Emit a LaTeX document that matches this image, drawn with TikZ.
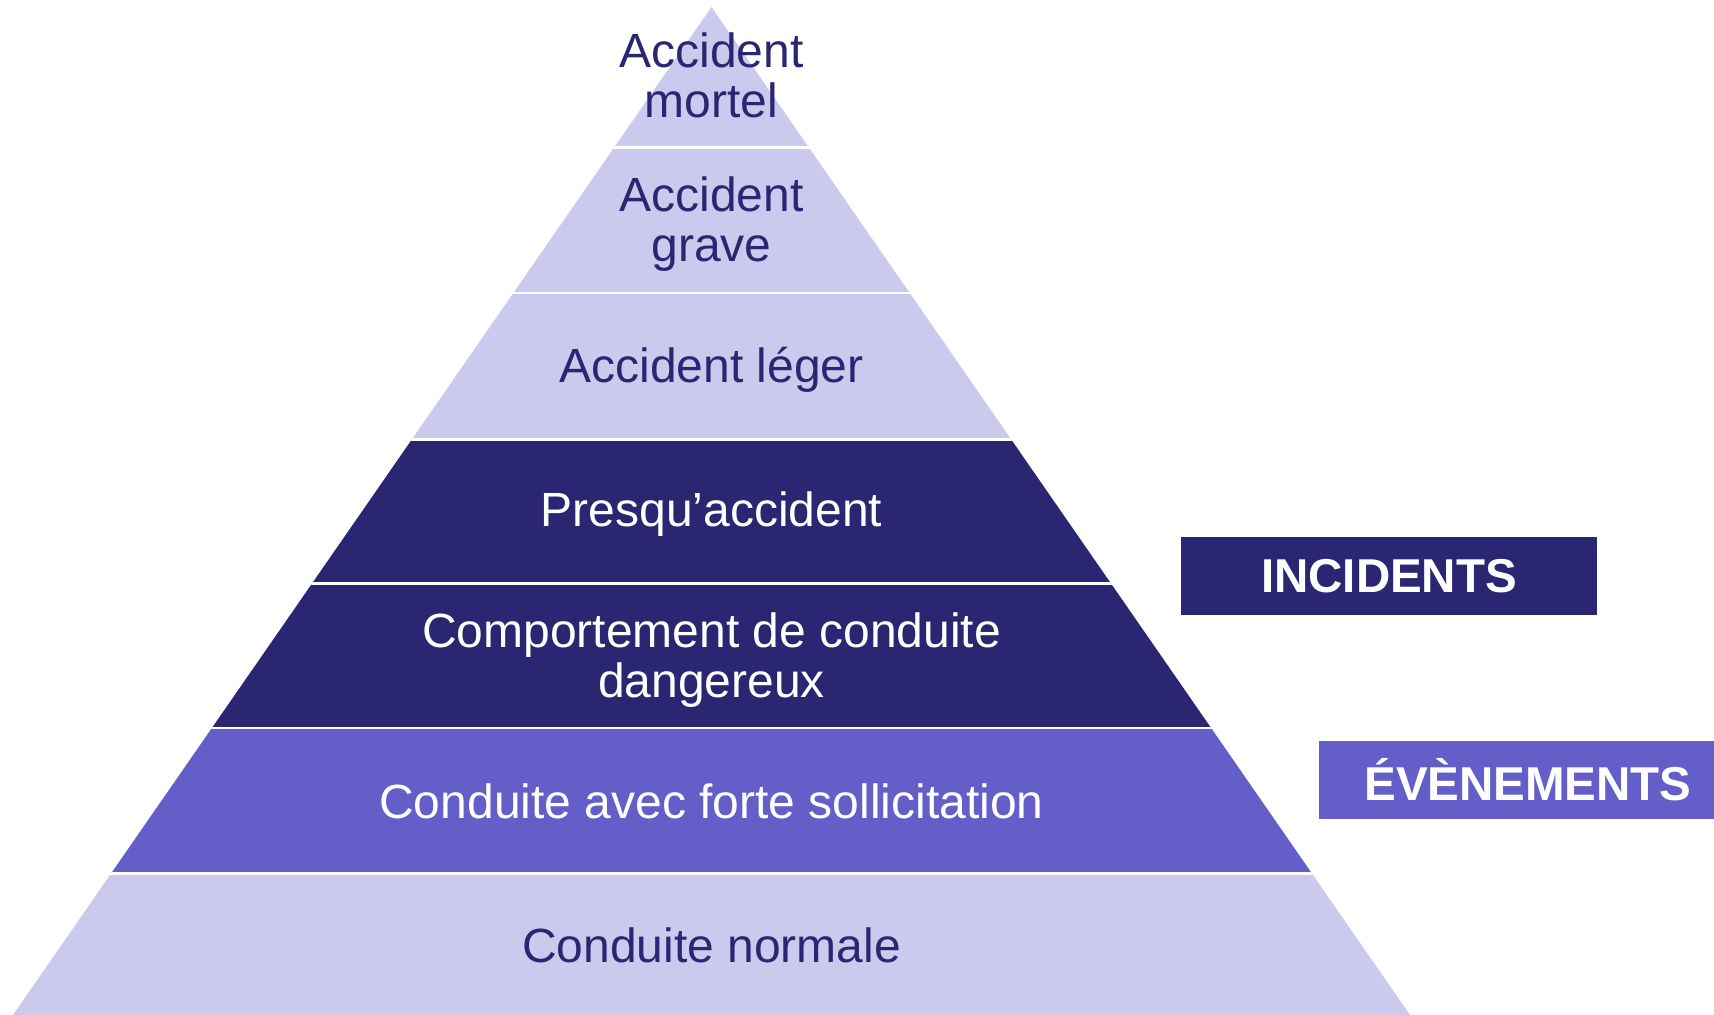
\documentclass[tikz,border=0pt]{standalone}
\usepackage{fontspec}
\setmainfont{Liberation Sans}
\definecolor{lav}{HTML}{CBC9ED}
\definecolor{navy}{HTML}{2B2672}
\definecolor{mid}{HTML}{645EC8}
\tikzset{
  tiertext/.style={align=center, font=\fontsize{48}{49.5}\selectfont, inner sep=0pt},
  onlight/.style={tiertext, text=navy},
  ondark/.style={tiertext, text=white},
  sep/.style={draw=white, line width=2.5pt},
  tag/.style={font=\fontsize{47.5}{50}\selectfont\bfseries, text=white, inner sep=0pt}
}
\begin{document}
\begin{tikzpicture}[x=1pt,y=-1pt]
\useasboundingbox (0,0) rectangle (1714,1015);
\coordinate (apex) at (711.5,7);
\coordinate (bl) at (13,1015);
\coordinate (br) at (1410,1015);
\begin{scope}
  \clip (apex) -- (br) -- (bl) -- cycle;
  \fill[lav]  (0,0) rectangle (1714,439.5);
  \fill[navy] (0,439.5) rectangle (1714,728);
  \fill[mid]  (0,728) rectangle (1714,873.4);
  \fill[lav]  (0,873.4) rectangle (1714,1015);
  \foreach \yy in {147.6,293,439.5,583.7,728,873.4}
    \draw[sep] (0,\yy) -- (1714,\yy);
\end{scope}
\node[onlight] (t1) at (711.5,75.5) {Accident\\mortel};
\node[onlight] (t2) at (711.5,224) {Accident\\grave};
\node[onlight] (t3) at (711.5,369.5) {Accident léger};
\node[ondark]  (t4) at (711.5,514) {Presqu’accident};
\node[ondark]  (t5) at (711.5,660) {Comportement de conduite\\dangereux};
\node[ondark]  (t6) at (711.5,801) {Conduite avec forte sollicitation};
\node[onlight] (t7) at (711.5,945.5) {Conduite normale};
\fill[navy] (1181,537) rectangle (1597,615);
\node[tag] (inc) at (1389,576) {INCIDENTS};
\fill[mid] (1319,741) rectangle (1714,819);
\node[tag] (evt) at (1528,780) {ÉVÈNEMENTS};
\end{tikzpicture}
\end{document}
